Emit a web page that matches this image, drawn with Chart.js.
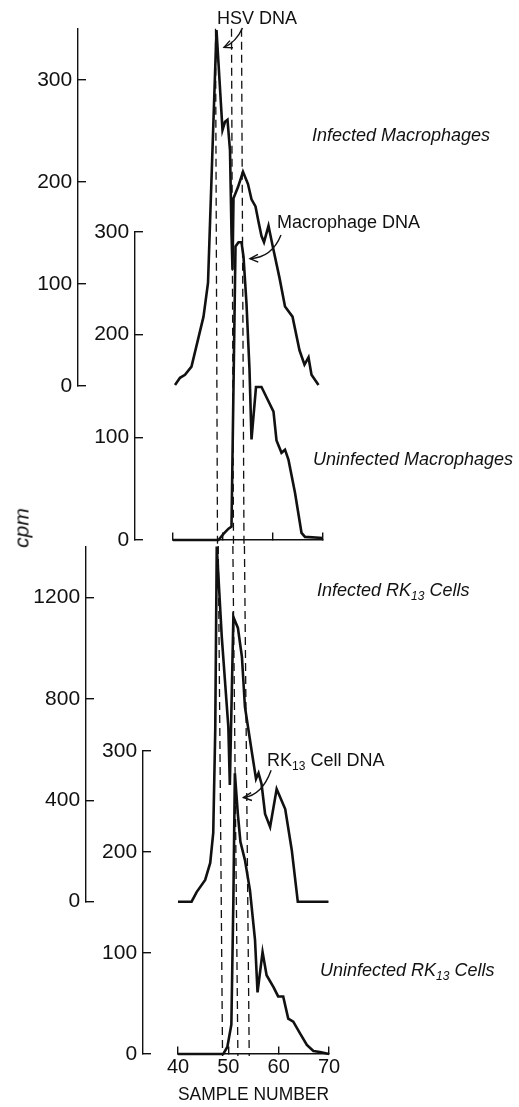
<!DOCTYPE html>
<html lang="en">
<head>
  <meta charset="UTF-8" />
  <title>HSV DNA in Macrophages and RK13 Cells</title>
  <meta name="viewport" content="width=device-width, initial-scale=1.0" />
  <script src="https://cdn.jsdelivr.net/npm/chart.js"></script>
  <style>
    body {
      margin: 0;
      background: #fff;
      color: #111;
      font-family: "Liberation Sans", Arial, sans-serif;
    }
    .figure {
      position: relative;
      width: 519px;
      height: 1107px;
      overflow: hidden;
    }
    .figure canvas {
      position: absolute;
      left: 0;
      top: 0;
    }
    .note {
      position: absolute;
      font-size: 18px;
      line-height: 18px;
      white-space: nowrap;
    }
    .note.it { font-style: italic; }
    .note sub {
      font-size: 12px;
      line-height: 0;
      vertical-align: -4px;
    }
    .cpm {
      position: absolute;
      left: 21px;
      top: 528px;
      font-size: 21px;
      line-height: 21px;
      font-style: italic;
      transform: translate(-50%, -50%) rotate(-90deg);
    }
  </style>
</head>
<body>
  <div class="figure">
    <canvas id="infMac" width="519" height="1107"></canvas>
    <canvas id="uninfMac" width="519" height="1107"></canvas>
    <canvas id="infRk" width="519" height="1107"></canvas>
    <canvas id="uninfRk" width="519" height="1107"></canvas>

    <div class="note" style="left:217px;top:9px">HSV DNA</div>
    <div class="note it" style="left:312px;top:126px">Infected Macrophages</div>
    <div class="note" style="left:277px;top:213px">Macrophage DNA</div>
    <div class="note it" style="left:313px;top:450px">Uninfected Macrophages</div>
    <div class="note it" style="left:317px;top:581px">Infected RK<sub>13</sub> Cells</div>
    <div class="note" style="left:267px;top:751px">RK<sub>13</sub> Cell DNA</div>
    <div class="note it" style="left:320px;top:961px">Uninfected RK<sub>13</sub> Cells</div>
    <div class="cpm">cpm</div>
  </div>

  <script>
    // infected macrophages
    const infMacSample = [40.4, 41.4, 42.4, 43.7, 46.1, 47.0, 48.7, 49.9, 50.4, 50.9, 51.1, 51.4, 51.7, 51.9, 52.1,
                          53.0, 54.0, 55.0, 55.7, 56.5, 57.1, 57.7, 58.2, 59.1, 59.9, 61.3, 62.4, 63.9, 65.3, 66.3, 67.1, 67.7, 69.1];
    const infMacCpm = [1, 8, 11, 19, 68, 101, 349, 251, 259, 261, 249, 231, 150, 114, 184,
                       195, 210, 198, 183, 176, 161, 147, 141, 157, 138, 106, 78, 68, 35, 21, 28, 11, 1];

    // uninfected macrophages
    const uninfMacSample = [40, 49.1, 50.1, 51.1, 51.7, 52.5, 53.1, 53.7, 54.1, 54.7, 55.3, 55.7,
                            56.6, 57.7, 58.7, 60.1, 60.7, 61.7, 62.4, 63.1, 64.4, 65.7, 66.4, 70];
    const uninfMacCpm = [0, 0, 6, 11, 13, 286, 290, 290, 276, 230, 166, 98,
                         149, 149, 139, 125, 97, 85, 88, 78, 46, 7, 3, 2];

    // infected RK13 cells
    const infRkSample = [40, 42.7, 43.7, 45.4, 46.4, 47.0, 47.4, 47.7, 48.7, 50.0, 50.3, 51.0, 51.9, 52.7,
                         53.3, 54.0, 54.7, 55.5, 56.0, 56.6, 57.3, 58.3, 59.6, 61.3, 62.6, 63.8, 69.9];
    const infRkCpm = [0, 0, 38, 86, 153, 271, 677, 1400, 1043, 689, 460, 1122, 1079, 965,
                      768, 677, 586, 484, 507, 464, 346, 295, 444, 365, 204, 0, 0];

    // uninfected RK13 cells
    const uninfRkSample = [40, 49.0, 49.8, 50.6, 51.0, 51.3, 51.9, 52.4, 53.3, 54.3, 55.3, 55.8,
                           56.8, 57.6, 59.0, 59.9, 60.9, 61.9, 62.9, 64.3, 65.6, 66.9, 68.2, 70];
    const uninfRkCpm = [0, 0, 7, 29, 152, 278, 237, 210, 192, 162, 113, 61,
                        101, 78, 66, 57, 57, 35, 32, 20, 9, 3, 2, 0];

    // tick labels
    const sampleTicks = [40, 50, 60, 70];
    const macTicksInf = [0, 100, 200, 300];
    const macTicksUninf = [0, 100, 200, 300];
    const rkTicksInf = [0, 400, 800, 1200];
    const rkTicksUninf = [0, 100, 200, 300];

    // dashed reference lines (sample at top end, at bottom end) and their cpm span
    const macMarkTop = [48.5, 51.7, 53.7];
    const macMarkBase = [48.9, 52.1, 54.2];
    const macMarkSpan = [498, -6];
    const rkMarkTop = [48.0, 50.9, 53.2];
    const rkMarkBase = [48.85, 51.9, 54.15];
    const rkMarkSpan = [503, -2];

    // annotation arrows: start, bend, tip as [sample, cpm]
    const hsvArrow = [[53.9, 351], [52.6, 337], [50.2, 332]];
    const macArrow = [[61.6, 297], [59.8, 275], [55.4, 274]];
    const rkArrow = [[58.5, 281], [56.7, 256], [53.0, 254]];

    const FONT = '"Liberation Sans", Arial, sans-serif';
    const INK = '#111';

    function trace(xs, ys) {
      return {
        data: xs.map((x, i) => ({ x: x, y: ys[i] })),
        borderColor: INK,
        borderWidth: 2.6,
        pointRadius: 0,
        tension: 0,
        fill: false,
        clip: false
      };
    }

    function markers(tops, bases, span) {
      return tops.map((t, i) => ({
        data: [{ x: t, y: span[0] }, { x: bases[i], y: span[1] }],
        borderColor: INK,
        borderWidth: 1.3,
        borderDash: [8, 5],
        pointRadius: 0,
        fill: false,
        clip: false
      }));
    }

    function yAxis(max, ticks, atSample) {
      return {
        type: 'linear',
        min: 0,
        max: max,
        position: { x: atSample },
        afterBuildTicks: s => { s.ticks = ticks.map(v => ({ value: v })); },
        grid: { drawOnChartArea: false, drawTicks: true, tickLength: -9, color: INK, lineWidth: 1.4 },
        border: { display: true, color: INK, width: 1.4 },
        ticks: { color: INK, padding: 0, font: { family: FONT, size: 21 }, callback: v => v + ' ' }
      };
    }

    const hiddenX = { type: 'linear', min: 40, max: 70, display: false };

    function sampleAxis(withLabels) {
      return {
        type: 'linear',
        min: 40,
        max: 70,
        position: { y: 0 },
        afterBuildTicks: s => { s.ticks = sampleTicks.map(v => ({ value: v })); },
        grid: { drawOnChartArea: false, drawTicks: true, tickLength: -8, color: INK, lineWidth: 1.4 },
        border: { display: true, color: INK, width: 1.4 },
        ticks: { display: withLabels, color: INK, padding: 9.5, maxRotation: 0, font: { family: FONT, size: 20 } },
        title: {
          display: withLabels,
          text: 'SAMPLE NUMBER',
          color: INK,
          font: { family: FONT, size: 19 },
          padding: { top: -6, bottom: 0 }
        }
      };
    }

    const arrowPlugin = {
      id: 'arrows',
      afterDatasetsDraw(chart, args, opts) {
        const { ctx } = chart;
        const xs = chart.scales.x, ys = chart.scales.y;
        (opts.list || []).forEach(a => {
          const p = a.map(pt => [xs.getPixelForValue(pt[0]), ys.getPixelForValue(pt[1])]);
          ctx.save();
          ctx.strokeStyle = INK;
          ctx.lineWidth = 1.4;
          ctx.beginPath();
          ctx.moveTo(p[0][0], p[0][1]);
          ctx.quadraticCurveTo(p[1][0], p[1][1], p[2][0], p[2][1]);
          ctx.stroke();
          const ang = Math.atan2(p[2][1] - p[1][1], p[2][0] - p[1][0]);
          ctx.beginPath();
          ctx.moveTo(p[2][0] - 9 * Math.cos(ang - 0.45), p[2][1] - 9 * Math.sin(ang - 0.45));
          ctx.lineTo(p[2][0], p[2][1]);
          ctx.lineTo(p[2][0] - 9 * Math.cos(ang + 0.45), p[2][1] - 9 * Math.sin(ang + 0.45));
          ctx.stroke();
          ctx.restore();
        });
      }
    };

    function panel(id, datasets, padding, xScale, yScale, arrows) {
      return new Chart(document.getElementById(id), {
        type: 'line',
        data: { datasets: datasets },
        options: {
          responsive: false,
          animation: false,
          events: [],
          layout: { padding: padding },
          plugins: {
            legend: { display: false },
            tooltip: { enabled: false },
            arrows: { list: arrows }
          },
          scales: { x: xScale, y: yScale }
        },
        plugins: [arrowPlugin]
      });
    }

    // top block
    panel('infMac',
      [trace(infMacSample, infMacCpm)],
      { left: 173, right: 196, top: 29, bottom: 721 },
      hiddenX, yAxis(350, macTicksInf, 21), [hsvArrow]);

    panel('uninfMac',
      [trace(uninfMacSample, uninfMacCpm)].concat(markers(macMarkTop, macMarkBase, macMarkSpan)),
      { left: 173, right: 196, top: 232, bottom: 567 },
      sampleAxis(false), yAxis(300, macTicksUninf, 32.4), [macArrow]);

    // bottom block
    panel('infRk',
      [trace(infRkSample, infRkCpm)],
      { left: 178, right: 190, top: 546.5, bottom: 205.3 },
      hiddenX, yAxis(1400, rkTicksInf, 21.7), []);

    panel('uninfRk',
      [trace(uninfRkSample, uninfRkCpm)].concat(markers(rkMarkTop, rkMarkBase, rkMarkSpan)),
      { left: 178, right: 190, top: 751, bottom: 53 },
      sampleAxis(true), yAxis(300, rkTicksUninf, 33.04), [rkArrow]);
  </script>
</body>
</html>
